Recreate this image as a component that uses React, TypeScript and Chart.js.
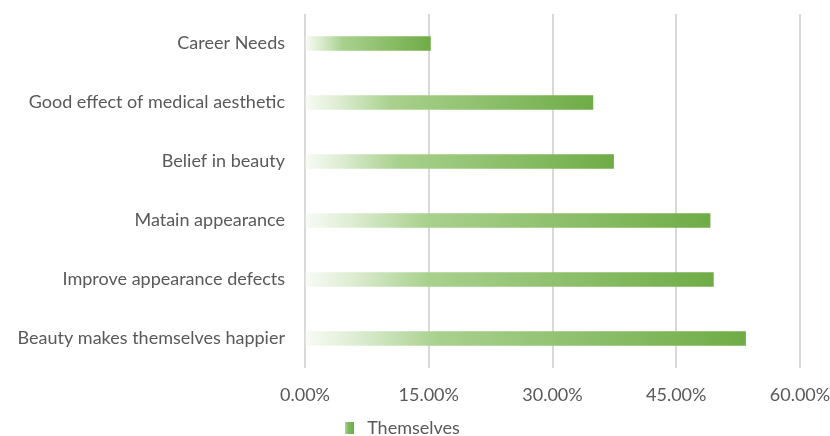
import React, { useEffect, useRef } from "react";
import { Chart, registerables } from "chart.js";

Chart.register(...registerables);

const categories = [
  "Career Needs",
  "Good effect of medical aesthetic",
  "Belief in beauty",
  "Matain appearance",
  "Improve appearance defects",
  "Beauty makes themselves happier",
];
const seriesName = "Themselves";
const values = [15.2, 34.9, 37.4, 49.1, 49.5, 53.4];
const xTicks = [0, 15, 30, 45, 60];

const FONT = "Lato, 'Open Sans', sans-serif";
const TEXT = "#595959";

function legendSwatch(): HTMLCanvasElement {
  const c = document.createElement("canvas");
  c.width = 9;
  c.height = 12;
  const g = c.getContext("2d")!;
  const grad = g.createLinearGradient(0, 0, 9, 0);
  grad.addColorStop(0, "#b5d89f");
  grad.addColorStop(0.4, "#80b95a");
  grad.addColorStop(1, "#70ad47");
  g.fillStyle = grad;
  g.fillRect(0, 0, 9, 12);
  return c;
}

export default function App() {
  const ref = useRef<HTMLCanvasElement>(null);

  useEffect(() => {
    const swatch = legendSwatch();
    const chart = new Chart(ref.current!, {
      type: "bar",
      data: {
        labels: categories,
        datasets: [
          {
            label: seriesName,
            data: values,
            barThickness: 14,
            borderWidth: 0,
            backgroundColor: (ctx: any) => {
              const c = ctx.chart;
              if (!c.chartArea || ctx.parsed == null) return "#70ad47";
              const xs = c.scales.x;
              const x0 = xs.getPixelForValue(0);
              const x1 = xs.getPixelForValue(ctx.parsed.x);
              // white-to-green fade along each bar
              const grad = c.ctx.createLinearGradient(x0, 0, x1, 0);
              grad.addColorStop(0, "#f8fbf5");
              grad.addColorStop(0.12, "#dcecd1");
              grad.addColorStop(0.3, "#a9d18e");
              grad.addColorStop(1, "#6fac46");
              return grad;
            },
          },
        ],
      },
      options: {
        indexAxis: "y",
        animation: false,
        responsive: false,
        layout: { padding: { top: 14, right: 30, left: 0, bottom: -11 } },
        scales: {
          x: {
            min: 0,
            max: 60,
            afterBuildTicks: (s: any) => {
              s.ticks = xTicks.map((v) => ({ value: v }));
            },
            afterFit: (s: any) => {
              s.height = 49;
              s.paddingLeft = 0;
              s.paddingRight = 0;
            },
            grid: { color: "#d9d9d9", lineWidth: 2, drawTicks: false },
            border: { display: false },
            ticks: {
              color: TEXT,
              font: { family: FONT, size: 18 },
              padding: 16,
              callback: (v: any) => Number(v).toFixed(2) + "%",
            },
          },
          y: {
            grid: { display: false, drawTicks: false },
            border: { display: false },
            afterFit: (s: any) => {
              s.width = 305;
              s.paddingTop = 0;
              s.paddingBottom = 0;
            },
            ticks: {
              color: TEXT,
              font: { family: FONT, size: 18 },
              padding: 20,
            },
          },
        },
        plugins: {
          legend: {
            position: "bottom",
            labels: {
              color: TEXT,
              font: { family: FONT, size: 18 },
              usePointStyle: true,
              pointStyle: swatch as any,
              padding: 2,
            },
          },
          tooltip: { enabled: false },
        },
      },
    });
    return () => chart.destroy();
  }, []);

  return (
    <div style={{ position: "fixed", left: 0, top: 0, width: 830, height: 436, background: "#fff" }}>
      <canvas ref={ref} width={830} height={436} />
    </div>
  );
}
